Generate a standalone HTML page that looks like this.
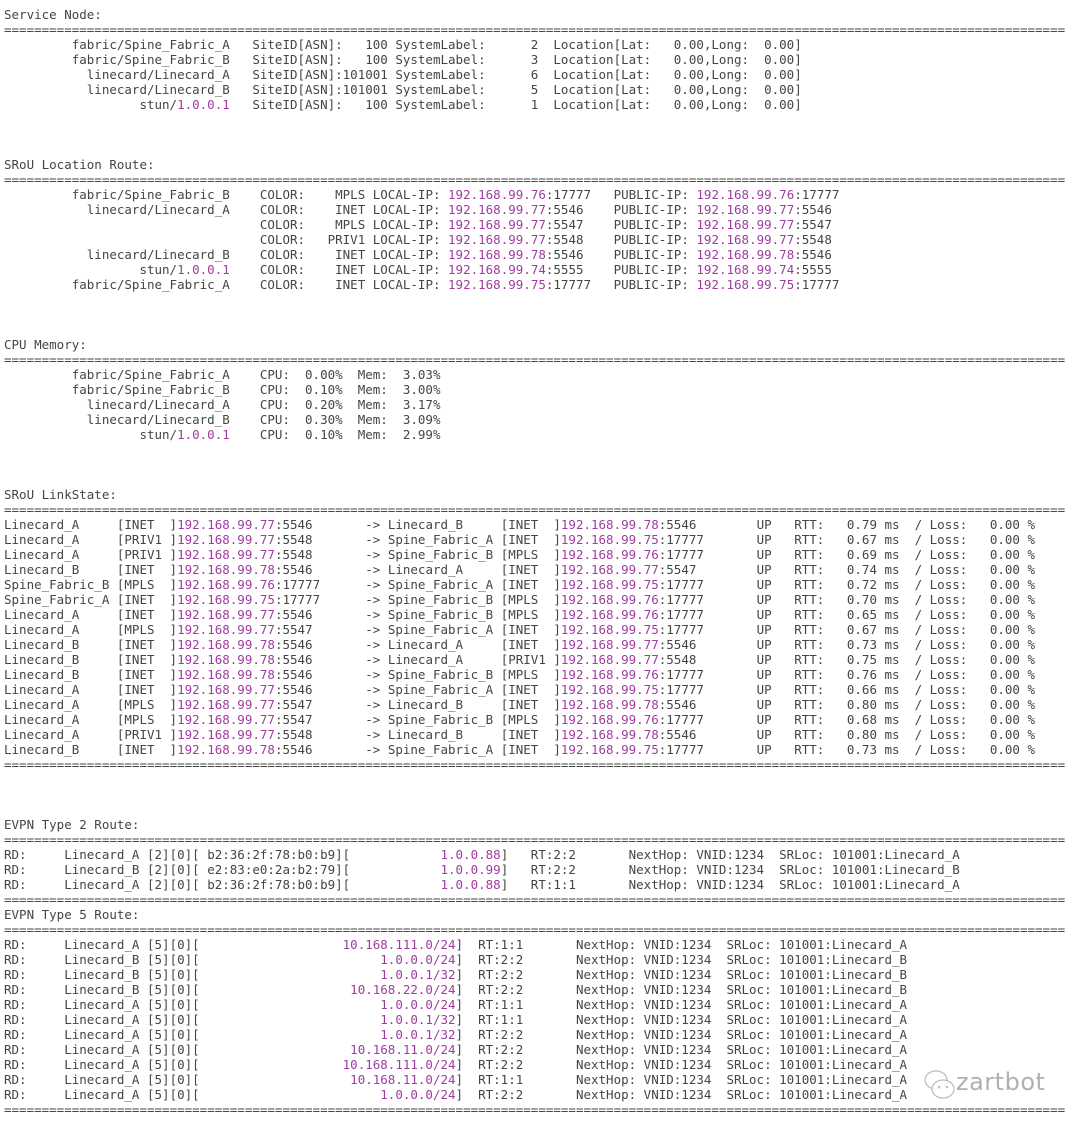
<!DOCTYPE html>
<html><head><meta charset="utf-8"><style>
html,body{margin:0;padding:0;background:#fff;width:1080px;height:1126px;overflow:hidden;position:relative}
pre{position:absolute;left:4px;top:7px;margin:0;font-family:"DejaVu Sans Mono","Liberation Mono",monospace;font-size:12.5px;line-height:15px;color:#454545}
b{font-weight:normal;color:#a03ca0}
i{font-style:normal;display:inline-block}
.n{width:30ch;text-align:right}
.r8{width:8ch;text-align:right}
.w22{width:22ch}
.w15{width:15ch}
.w25{width:25ch}
.w26{width:26ch}
.r20{width:20ch;text-align:right}
.r34{width:34ch;text-align:right}
.wm{position:absolute;left:922px;top:1066px;width:150px;height:40px}
.wm span{position:absolute;left:34px;top:2px;font-family:"DejaVu Sans","Liberation Sans",sans-serif;font-size:24px;color:#b0b0b0;letter-spacing:0.5px}
</style></head><body>
<pre>Service Node:
=============================================================================================================================================
<i class="n">fabric/Spine_Fabric_A</i>   SiteID[ASN]:   100 SystemLabel:      2  Location[Lat:   0.00,Long:  0.00]
<i class="n">fabric/Spine_Fabric_B</i>   SiteID[ASN]:   100 SystemLabel:      3  Location[Lat:   0.00,Long:  0.00]
<i class="n">linecard/Linecard_A</i>   SiteID[ASN]:101001 SystemLabel:      6  Location[Lat:   0.00,Long:  0.00]
<i class="n">linecard/Linecard_B</i>   SiteID[ASN]:101001 SystemLabel:      5  Location[Lat:   0.00,Long:  0.00]
<i class="n">stun/<b>1.0.0.1</b></i>   SiteID[ASN]:   100 SystemLabel:      1  Location[Lat:   0.00,Long:  0.00]



SRoU Location Route:
=============================================================================================================================================
<i class="n">fabric/Spine_Fabric_B</i>    COLOR:<i class="r8">MPLS</i> LOCAL-IP: <i class="w22"><b>192.168.99.76</b>:17777</i>PUBLIC-IP: <b>192.168.99.76</b>:17777
<i class="n">linecard/Linecard_A</i>    COLOR:<i class="r8">INET</i> LOCAL-IP: <i class="w22"><b>192.168.99.77</b>:5546</i>PUBLIC-IP: <b>192.168.99.77</b>:5546
<i class="n"></i>    COLOR:<i class="r8">MPLS</i> LOCAL-IP: <i class="w22"><b>192.168.99.77</b>:5547</i>PUBLIC-IP: <b>192.168.99.77</b>:5547
<i class="n"></i>    COLOR:<i class="r8">PRIV1</i> LOCAL-IP: <i class="w22"><b>192.168.99.77</b>:5548</i>PUBLIC-IP: <b>192.168.99.77</b>:5548
<i class="n">linecard/Linecard_B</i>    COLOR:<i class="r8">INET</i> LOCAL-IP: <i class="w22"><b>192.168.99.78</b>:5546</i>PUBLIC-IP: <b>192.168.99.78</b>:5546
<i class="n">stun/<b>1.0.0.1</b></i>    COLOR:<i class="r8">INET</i> LOCAL-IP: <i class="w22"><b>192.168.99.74</b>:5555</i>PUBLIC-IP: <b>192.168.99.74</b>:5555
<i class="n">fabric/Spine_Fabric_A</i>    COLOR:<i class="r8">INET</i> LOCAL-IP: <i class="w22"><b>192.168.99.75</b>:17777</i>PUBLIC-IP: <b>192.168.99.75</b>:17777



CPU Memory:
=============================================================================================================================================
<i class="n">fabric/Spine_Fabric_A</i>    CPU:  0.00%  Mem:  3.03%
<i class="n">fabric/Spine_Fabric_B</i>    CPU:  0.10%  Mem:  3.00%
<i class="n">linecard/Linecard_A</i>    CPU:  0.20%  Mem:  3.17%
<i class="n">linecard/Linecard_B</i>    CPU:  0.30%  Mem:  3.09%
<i class="n">stun/<b>1.0.0.1</b></i>    CPU:  0.10%  Mem:  2.99%



SRoU LinkState:
=============================================================================================================================================
<i class="w15">Linecard_A</i>[INET  ]<i class="w25"><b>192.168.99.77</b>:5546</i>-> <i class="w15">Linecard_B</i>[INET  ]<i class="w26"><b>192.168.99.78</b>:5546</i>UP   RTT:   0.79 ms  / Loss:   0.00 %
<i class="w15">Linecard_A</i>[PRIV1 ]<i class="w25"><b>192.168.99.77</b>:5548</i>-> <i class="w15">Spine_Fabric_A</i>[INET  ]<i class="w26"><b>192.168.99.75</b>:17777</i>UP   RTT:   0.67 ms  / Loss:   0.00 %
<i class="w15">Linecard_A</i>[PRIV1 ]<i class="w25"><b>192.168.99.77</b>:5548</i>-> <i class="w15">Spine_Fabric_B</i>[MPLS  ]<i class="w26"><b>192.168.99.76</b>:17777</i>UP   RTT:   0.69 ms  / Loss:   0.00 %
<i class="w15">Linecard_B</i>[INET  ]<i class="w25"><b>192.168.99.78</b>:5546</i>-> <i class="w15">Linecard_A</i>[INET  ]<i class="w26"><b>192.168.99.77</b>:5547</i>UP   RTT:   0.74 ms  / Loss:   0.00 %
<i class="w15">Spine_Fabric_B</i>[MPLS  ]<i class="w25"><b>192.168.99.76</b>:17777</i>-> <i class="w15">Spine_Fabric_A</i>[INET  ]<i class="w26"><b>192.168.99.75</b>:17777</i>UP   RTT:   0.72 ms  / Loss:   0.00 %
<i class="w15">Spine_Fabric_A</i>[INET  ]<i class="w25"><b>192.168.99.75</b>:17777</i>-> <i class="w15">Spine_Fabric_B</i>[MPLS  ]<i class="w26"><b>192.168.99.76</b>:17777</i>UP   RTT:   0.70 ms  / Loss:   0.00 %
<i class="w15">Linecard_A</i>[INET  ]<i class="w25"><b>192.168.99.77</b>:5546</i>-> <i class="w15">Spine_Fabric_B</i>[MPLS  ]<i class="w26"><b>192.168.99.76</b>:17777</i>UP   RTT:   0.65 ms  / Loss:   0.00 %
<i class="w15">Linecard_A</i>[MPLS  ]<i class="w25"><b>192.168.99.77</b>:5547</i>-> <i class="w15">Spine_Fabric_A</i>[INET  ]<i class="w26"><b>192.168.99.75</b>:17777</i>UP   RTT:   0.67 ms  / Loss:   0.00 %
<i class="w15">Linecard_B</i>[INET  ]<i class="w25"><b>192.168.99.78</b>:5546</i>-> <i class="w15">Linecard_A</i>[INET  ]<i class="w26"><b>192.168.99.77</b>:5546</i>UP   RTT:   0.73 ms  / Loss:   0.00 %
<i class="w15">Linecard_B</i>[INET  ]<i class="w25"><b>192.168.99.78</b>:5546</i>-> <i class="w15">Linecard_A</i>[PRIV1 ]<i class="w26"><b>192.168.99.77</b>:5548</i>UP   RTT:   0.75 ms  / Loss:   0.00 %
<i class="w15">Linecard_B</i>[INET  ]<i class="w25"><b>192.168.99.78</b>:5546</i>-> <i class="w15">Spine_Fabric_B</i>[MPLS  ]<i class="w26"><b>192.168.99.76</b>:17777</i>UP   RTT:   0.76 ms  / Loss:   0.00 %
<i class="w15">Linecard_A</i>[INET  ]<i class="w25"><b>192.168.99.77</b>:5546</i>-> <i class="w15">Spine_Fabric_A</i>[INET  ]<i class="w26"><b>192.168.99.75</b>:17777</i>UP   RTT:   0.66 ms  / Loss:   0.00 %
<i class="w15">Linecard_A</i>[MPLS  ]<i class="w25"><b>192.168.99.77</b>:5547</i>-> <i class="w15">Linecard_B</i>[INET  ]<i class="w26"><b>192.168.99.78</b>:5546</i>UP   RTT:   0.80 ms  / Loss:   0.00 %
<i class="w15">Linecard_A</i>[MPLS  ]<i class="w25"><b>192.168.99.77</b>:5547</i>-> <i class="w15">Spine_Fabric_B</i>[MPLS  ]<i class="w26"><b>192.168.99.76</b>:17777</i>UP   RTT:   0.68 ms  / Loss:   0.00 %
<i class="w15">Linecard_A</i>[PRIV1 ]<i class="w25"><b>192.168.99.77</b>:5548</i>-> <i class="w15">Linecard_B</i>[INET  ]<i class="w26"><b>192.168.99.78</b>:5546</i>UP   RTT:   0.80 ms  / Loss:   0.00 %
<i class="w15">Linecard_B</i>[INET  ]<i class="w25"><b>192.168.99.78</b>:5546</i>-> <i class="w15">Spine_Fabric_A</i>[INET  ]<i class="w26"><b>192.168.99.75</b>:17777</i>UP   RTT:   0.73 ms  / Loss:   0.00 %
=============================================================================================================================================



EVPN Type 2 Route:
=============================================================================================================================================
RD:     Linecard_A [2][0][ b2:36:2f:78:b0:b9][<i class="r20"><b>1.0.0.88</b></i>]   RT:2:2       NextHop: VNID:1234  SRLoc: 101001:Linecard_A
RD:     Linecard_B [2][0][ e2:83:e0:2a:b2:79][<i class="r20"><b>1.0.0.99</b></i>]   RT:2:2       NextHop: VNID:1234  SRLoc: 101001:Linecard_B
RD:     Linecard_A [2][0][ b2:36:2f:78:b0:b9][<i class="r20"><b>1.0.0.88</b></i>]   RT:1:1       NextHop: VNID:1234  SRLoc: 101001:Linecard_A
=============================================================================================================================================
EVPN Type 5 Route:
=============================================================================================================================================
RD:     Linecard_A [5][0][<i class="r34"><b>10.168.111.0/24</b></i>]  RT:1:1       NextHop: VNID:1234  SRLoc: 101001:Linecard_A
RD:     Linecard_B [5][0][<i class="r34"><b>1.0.0.0/24</b></i>]  RT:2:2       NextHop: VNID:1234  SRLoc: 101001:Linecard_B
RD:     Linecard_B [5][0][<i class="r34"><b>1.0.0.1/32</b></i>]  RT:2:2       NextHop: VNID:1234  SRLoc: 101001:Linecard_B
RD:     Linecard_B [5][0][<i class="r34"><b>10.168.22.0/24</b></i>]  RT:2:2       NextHop: VNID:1234  SRLoc: 101001:Linecard_B
RD:     Linecard_A [5][0][<i class="r34"><b>1.0.0.0/24</b></i>]  RT:1:1       NextHop: VNID:1234  SRLoc: 101001:Linecard_A
RD:     Linecard_A [5][0][<i class="r34"><b>1.0.0.1/32</b></i>]  RT:1:1       NextHop: VNID:1234  SRLoc: 101001:Linecard_A
RD:     Linecard_A [5][0][<i class="r34"><b>1.0.0.1/32</b></i>]  RT:2:2       NextHop: VNID:1234  SRLoc: 101001:Linecard_A
RD:     Linecard_A [5][0][<i class="r34"><b>10.168.11.0/24</b></i>]  RT:2:2       NextHop: VNID:1234  SRLoc: 101001:Linecard_A
RD:     Linecard_A [5][0][<i class="r34"><b>10.168.111.0/24</b></i>]  RT:2:2       NextHop: VNID:1234  SRLoc: 101001:Linecard_A
RD:     Linecard_A [5][0][<i class="r34"><b>10.168.11.0/24</b></i>]  RT:1:1       NextHop: VNID:1234  SRLoc: 101001:Linecard_A
RD:     Linecard_A [5][0][<i class="r34"><b>1.0.0.0/24</b></i>]  RT:2:2       NextHop: VNID:1234  SRLoc: 101001:Linecard_A
=============================================================================================================================================</pre>
<div class="wm">
<svg width="36" height="36" viewBox="0 0 36 36" style="position:absolute;left:0;top:2px">
<ellipse cx="14" cy="12" rx="11" ry="9" fill="rgba(255,255,255,0.6)" stroke="#bbb" stroke-width="1.2"/>
<ellipse cx="21" cy="21" rx="11" ry="9" fill="rgba(255,255,255,0.85)" stroke="#bbb" stroke-width="1.2"/>
<circle cx="17" cy="19" r="1.2" fill="#bbb"/><circle cx="25" cy="19" r="1.2" fill="#bbb"/>
</svg>
<span>zartbot</span>
</div>
</body></html>
